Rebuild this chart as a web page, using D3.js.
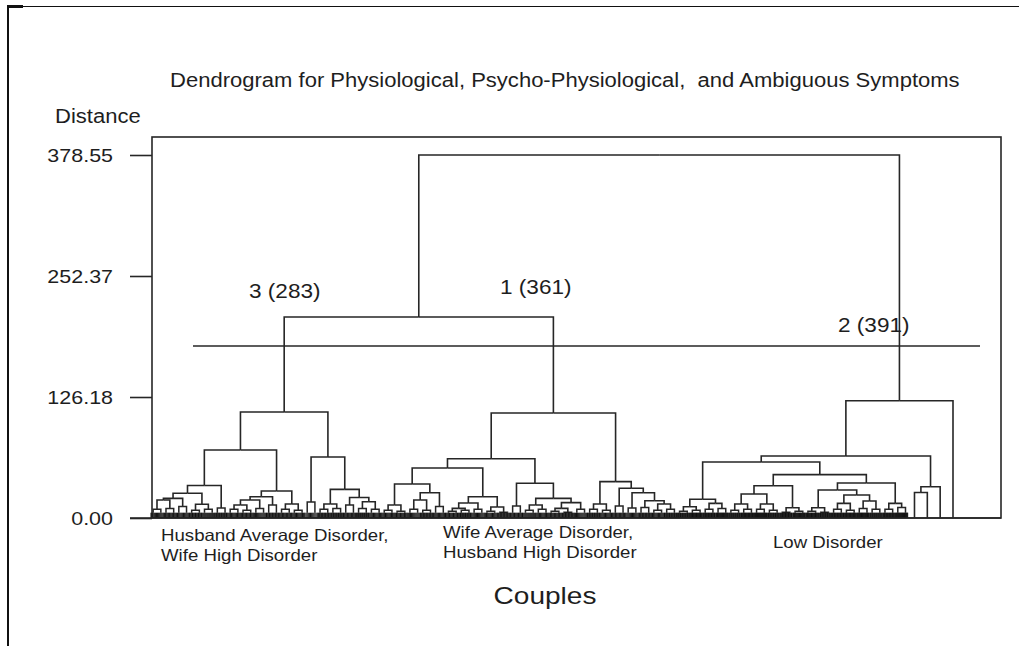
<!DOCTYPE html>
<html>
<head>
<meta charset="utf-8">
<script src="https://cdn.jsdelivr.net/npm/d3@7"></script>
<style>
body { margin: 0; background: #fff; }
svg text { font-family: "Liberation Sans", Arial, sans-serif; fill: #1e1e1e; }
</style>
</head>
<body>
<svg id="chart" width="1019" height="646"></svg>
<script>
// chart values
const titleText = "Dendrogram for Physiological, Psycho-Physiological,  and Ambiguous Symptoms";
const yAxisTitle = "Distance";
const xAxisTitle = "Couples";
const distanceTicks = [0, 126.18, 252.37, 378.55];
const maxDistance = 378.55;
const joinDistances = [378.55, 209.6]; // root, then clusters 3 + 1
const cutDistance = 179.4;
const clusterNames = ["3", "1", "2"];
const groupLabels = [
    ["Husband Average Disorder,", "Wife High Disorder"],
    ["Wife Average Disorder,", "Husband High Disorder"],
    ["Low Disorder"]
];

// merges are [distance, left, right], terminal groups are [distance, couples]
const clusterThree = [110.5,
    [70.9,
        [33.9,
            [25.8,
                [20.5, [18.8, [9, 14], [10, 16]], [12, 15]],
                [14.3, [8, 17], [9, 13]]],
            [10.4, 18]],
        [28.2,
            [22.2, [18.8, [13.6, [9, 15], [8, 16]], [10, 14]], [13.6, 17]],
            [14.6, [9, 16], [8, 15]]]],
    [63.6,
        [16.7, 12],
        [29.9,
            [14.6, [9, 17], [10, 18]],
            [21.4, [13.6, 16], [17, [10, 19], [9, 15]]]]]];

const clusterOne = [109.5,
    [61.8,
        [52.1,
            [35.5,
                [13.5, [8, 15], [7, 16]],
                [26.4, [18.8, [9, 14], [8, 17]], [12, 15]]],
            [22.2,
                [15.6, [10, [7, 16], [8, 18]], [9, 14]],
                [11.5, [7, 15], [6, 17]]]],
        [36.2,
            [12.5, 16],
            [20.5,
                [13.6, [8, 13], [9, 15]],
                [16, [10, [7, 16], [6, 17]], [9, 14]]]]],
    [37.9,
        [14.6, [9, 18], [8, 15]],
        [31,
            [12.5, 16],
            [26.4, [10.4, 14], [18, [11, 17], [14.6, [8, 15], [9, 18]]]]]]];

const clusterTwo = [122.3,
    [64.7,
        [58.4,
            [19.5,
                [11.8, [7, 20], [8, 22]],
                [15.3, [9, 21], [10, 23]]],
            [45.2,
                [33.7,
                    [25, [14.6, [8, 19], [9, 22]], [14.6, [9, 24], [8, 20]]],
                    [10.7, [6, 21], [7, 23]]],
                [36.5,
                    [29.2,
                        [10.7, [7, 22], [6, 20]],
                        [24, [15.3, [9, 21], [8, 22]], [17.7, [10, 23], [9, 19]]]],
                    [15.3, [9, 21], [11, 24]]]]],
        [32.6, [26.6, [0, 1], [0, 1]], [0, 1]]],
    [0, 1]];


const svg = d3.select("#chart");

const plotLeft = 152;
const plotRight = 1001;
const plotTop = 137;
const plotBottom = 518;
const stretch = 1.13;
const ink = "#262626";

function toNode(a) {
    if (typeof a[1] === "number") {
        return { dist: a[0], count: a[1] };
    }
    return { dist: a[0], children: a.slice(1).map(toNode) };
}

const clusters = [clusterThree, clusterOne, clusterTwo].map(toNode);

const treeData = {
    dist: joinDistances[0],
    children: [
        { dist: joinDistances[1], children: [clusters[0], clusters[1]] },
        clusters[2]
    ]
};

const root = d3.hierarchy(treeData);

d3.cluster()
    .size([1, 1])
    .separation(function() { return 1; })(root);

const leaves = root.leaves();

const x = d3.scaleLinear()
    .domain(d3.extent(leaves, function(d) { return d.x; }))
    .range([157, 953]);
const y = d3.scaleLinear().domain([0, maxDistance]).range([plotBottom, 155]);

const step = (953 - 157) / (leaves.length - 1);

// page border
svg.append("line")
    .attr("x1", 8).attr("x2", 1019).attr("y1", 6.5).attr("y2", 6.5)
    .attr("stroke", "#111").attr("stroke-width", 1.2);
svg.append("rect")
    .attr("x", 7).attr("y", 5).attr("width", 16).attr("height", 3)
    .attr("fill", "#111");
svg.append("line")
    .attr("x1", 8).attr("x2", 8).attr("y1", 6).attr("y2", 646)
    .attr("stroke", "#111").attr("stroke-width", 2);

// title
svg.append("text")
    .attr("transform", "translate(170,87) scale(" + stretch + ",1)")
    .style("font-size", "19.5px")
    .style("white-space", "pre")
    .text(titleText);

svg.append("text")
    .attr("transform", "translate(55,123) scale(" + stretch + ",1)")
    .style("font-size", "19.5px")
    .text(yAxisTitle);

// frame
svg.append("rect")
    .attr("x", plotLeft)
    .attr("y", plotTop)
    .attr("width", plotRight - plotLeft)
    .attr("height", plotBottom - plotTop)
    .attr("fill", "none")
    .attr("stroke", ink)
    .attr("stroke-width", 1.6);

// y axis
const axis = svg.append("g")
    .attr("transform", "translate(" + plotLeft + ",0)")
    .call(d3.axisLeft(y)
        .tickValues(distanceTicks)
        .tickFormat(d3.format(".2f"))
        .tickSize(22)
        .tickPadding(17)
        .tickSizeOuter(0));

axis.select(".domain").remove();
axis.selectAll(".tick line").attr("stroke", ink).attr("stroke-width", 1.6);
axis.selectAll(".tick text")
    .attr("x", 0)
    .attr("transform", "translate(-39,0) scale(" + stretch + ",1)")
    .attr("fill", "#1e1e1e")
    .style("font-size", "19px")
    .style("font-family", "\"Liberation Sans\", Arial, sans-serif");

// dendrogram links
svg.append("g")
    .selectAll("path")
    .data(root.links())
    .enter()
    .append("path")
    .attr("d", function(d) {
        return "M" + x(d.source.x) + "," + y(d.source.data.dist) +
            "H" + x(d.target.x) +
            "V" + y(d.target.data.dist);
    })
    .attr("fill", "none")
    .attr("stroke", ink)
    .attr("stroke-width", 1.6);

// terminal groups of couples
const bandTop = 5.5;
const groups = leaves.filter(function(d) { return d.data.count > 1; });

const groupG = svg.append("g")
    .selectAll("g")
    .data(groups)
    .enter()
    .append("g");

groupG.append("path")
    .attr("d", function(d) {
        const cx = x(d.x);
        return "M" + (cx - step * 0.3) + "," + y(bandTop) +
            "V" + y(d.data.dist) +
            "H" + (cx + step * 0.3) +
            "V" + y(bandTop);
    })
    .attr("fill", "none")
    .attr("stroke", ink)
    .attr("stroke-width", 1.5);

groupG.each(function(d) {
    const cx = x(d.x);
    const spread = d3.scaleLinear()
        .domain([0, d.data.count - 1])
        .range([cx - step * 0.47, cx + step * 0.47]);

    d3.select(this).selectAll("line")
        .data(d3.range(d.data.count))
        .enter()
        .append("line")
        .attr("x1", function(i) { return spread(i); })
        .attr("x2", function(i) { return spread(i); })
        .attr("y1", y(0))
        .attr("y2", y(bandTop))
        .attr("stroke", "#111")
        .attr("stroke-width", 1);
});

// bottom axis line
svg.append("line")
    .attr("x1", 130).attr("x2", plotRight)
    .attr("y1", plotBottom).attr("y2", plotBottom)
    .attr("stroke", ink).attr("stroke-width", 1.6);

// cut line
svg.append("line")
    .attr("x1", 193).attr("x2", 980)
    .attr("y1", y(cutDistance)).attr("y2", y(cutDistance))
    .attr("stroke", ink)
    .attr("stroke-width", 1.6);

// cluster labels, size taken from the couples in each cluster
const labelSpots = [[249, 298], [500, 294], [838, 332]];

clusters.forEach(function(c, i) {
    const node = d3.hierarchy(c);
    const total = d3.sum(node.leaves(), function(d) { return d.data.count; });
    svg.append("text")
        .attr("transform", "translate(" + labelSpots[i][0] + "," + labelSpots[i][1] + ") scale(" + stretch + ",1)")
        .style("font-size", "20px")
        .text(clusterNames[i] + " (" + total + ")");
});

// group descriptions under the axis
const groupSpots = [[161, 541], [443, 538], [773, 548]];

groupLabels.forEach(function(lines, i) {
    lines.forEach(function(line, j) {
        svg.append("text")
            .attr("transform", "translate(" + groupSpots[i][0] + "," + (groupSpots[i][1] + j * 20) + ") scale(" + stretch + ",1)")
            .style("font-size", "16.5px")
            .text(line);
    });
});

svg.append("text")
    .attr("transform", "translate(545,604) scale(1.22,1)")
    .attr("text-anchor", "middle")
    .style("font-size", "23px")
    .text(xAxisTitle);

</script>
</body>
</html>
